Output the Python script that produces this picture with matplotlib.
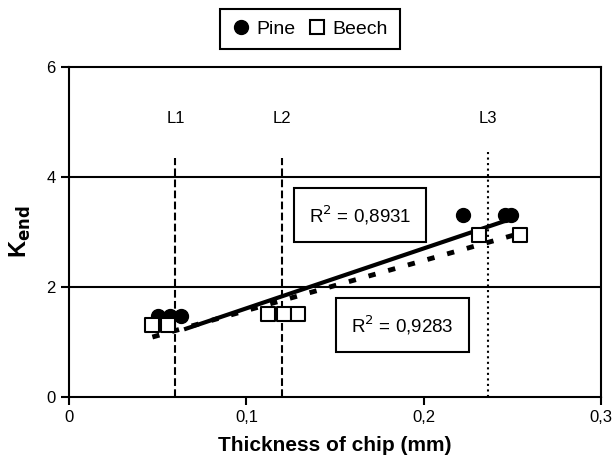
import matplotlib
matplotlib.use("Agg")
import matplotlib.pyplot as plt
from matplotlib.lines import Line2D
import numpy as np

plt.rcParams['font.family'] = ['Liberation Sans', 'DejaVu Sans']

# data
pine_x = [0.050, 0.057, 0.063, 0.222, 0.246, 0.249]
pine_y = [1.47, 1.47, 1.47, 3.30, 3.30, 3.30]
beech_x = [0.047, 0.056, 0.112, 0.121, 0.129, 0.231, 0.254]
beech_y = [1.31, 1.31, 1.50, 1.50, 1.50, 2.95, 2.95]

pine_fit = (10.9, 0.52)    # slope, intercept
pine_range = [0.066, 0.248]
beech_fit = (9.1, 0.66)
beech_range = [0.047, 0.252]

limits_x = [0.06, 0.12, 0.236]
limits_lab = ['L1', 'L2', 'L3']
limits_top = [4.35, 4.35, 4.5]
limits_style = ['--', '--', ':']

r2_text = ['0,8931', '0,9283']
r2_pos = [(0.164, 3.31), (0.188, 1.31)]

fig = plt.figure(figsize=(6.16, 4.68), dpi=100)
ax = fig.add_axes([0.112, 0.152, 0.864, 0.705])

for v in [2, 4]:
    ax.axhline(v, color='black', lw=1.5, zorder=1)

for x, lab, top, ls in zip(limits_x, limits_lab, limits_top, limits_style):
    ax.plot([x, x], [0, top], color='black', lw=1.5, ls=ls, zorder=2)
    ax.text(x, 5.07, lab, ha='center', va='center', fontsize=12)

xb = np.array(beech_range)
ax.plot(xb, beech_fit[0] * xb + beech_fit[1], color='black', lw=3.5,
        ls=(0, (1.5, 2.7)), zorder=3)
xp = np.array(pine_range)
ax.plot(xp, pine_fit[0] * xp + pine_fit[1], color='black', lw=3, zorder=4)

ax.scatter(pine_x, pine_y, marker='o', s=100, color='black', zorder=5)
ax.scatter(beech_x, beech_y, marker='s', s=110, facecolor='white',
           edgecolor='black', linewidth=1.5, zorder=5)

for t, (x, y) in zip(r2_text, r2_pos):
    ax.text(x, y, 'R$^{2}$ = ' + t, ha='center', va='center', fontsize=13.5,
            bbox=dict(boxstyle='square,pad=0.8', fc='white', ec='black', lw=1.5),
            zorder=6)

ax.set_xlim(0, 0.3)
ax.set_ylim(0, 6)
ax.set_xticks([0, 0.1, 0.2, 0.3])
ax.set_xticklabels(['0', '0,1', '0,2', '0,3'])
ax.set_yticks([0, 2, 4, 6])
for s in ax.spines.values():
    s.set_linewidth(1.5)
ax.tick_params(width=1.5, length=6, labelsize=12, direction='out')
ax.set_xlabel('Thickness of chip (mm)', fontsize=15, fontweight='bold', labelpad=8)
ax.set_ylabel('K$_{\\mathbf{end}}$', fontsize=17, fontweight='bold', labelpad=10)

handles = [Line2D([], [], marker='o', color='black', ls='none', ms=10),
           Line2D([], [], marker='s', mfc='white', mec='black', mew=1.5, ls='none', ms=10)]
fig.legend(handles, ['Pine', 'Beech'], loc='center', bbox_to_anchor=(0.503, 0.938),
           ncol=2, fancybox=False, edgecolor='black', framealpha=1,
           prop={'size': 14}, handletextpad=0.3, columnspacing=0.6,
           handlelength=1.0, borderpad=0.6).get_frame().set_linewidth(1.5)

fig.savefig('out.png', dpi=100)
